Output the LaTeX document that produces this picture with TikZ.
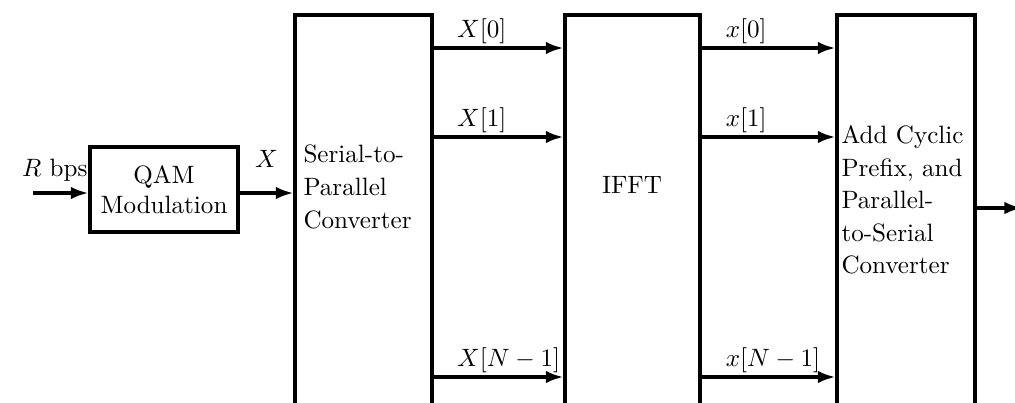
\documentclass[tikz,border=0pt]{standalone}
\usepackage{amsmath,amssymb}
\usetikzlibrary{arrows.meta,positioning,calc}

\begin{document}
\begin{tikzpicture}[x=0.014cm, y=-0.014cm, >={Latex[length=7pt,width=5pt]},
  block/.style={draw, line width=1.3pt, rectangle, inner sep=0pt},
  txt/.style={align=left, font=\fontsize{10}{13}\selectfont, inner sep=0pt},
  lbl/.style={inner sep=1pt, anchor=south west}]
  \useasboundingbox (0,0) rectangle (1015,402);
  \clip (0,0) rectangle (1015,402);
  % blocks
  \node[block, minimum width=2.072cm, minimum height=1.19cm, align=center] (qam) at (164,189.5) {QAM\\Modulation};
  \node[block, minimum width=1.918cm, minimum height=5.95cm] (sp) at (363.5,227.5) {};
  \node[block, minimum width=1.89cm, minimum height=5.95cm] (ifft) at (632.5,227.5) {};
  \node[block, minimum width=1.932cm, minimum height=5.95cm] (ps) at (906,227.5) {};
  \node[txt, anchor=west] (sptxt) at (303,187) {Serial-to-\\Parallel\\Converter};
  \node[txt] (iffttxt) at (632,185) {IFFT};
  \node[txt, anchor=west] (pstxt) at (841,200) {Add Cyclic\\Prefix, and\\Parallel-\\to-Serial\\Converter};
  \coordinate (in) at (33,193);
  \coordinate (out) at (1022,208);
  % connectors
  \draw[->, line width=1.3pt] (in) -- (qam.west |- in) node[lbl, pos=0, xshift=-6pt, yshift=3pt] {$R$ bps};
  \draw[->, line width=1.3pt] (qam.east |- in) -- (sp.west |- in) node[midway, above=6pt] {$X$};
  \draw[->, line width=1.3pt] (sp.east |- 0,48) -- (ifft.west |- 0,48) node[lbl, pos=0.15] {$X[0]$};
  \draw[->, line width=1.3pt] (sp.east |- 0,137) -- (ifft.west |- 0,137) node[lbl, pos=0.15] {$X[1]$};
  \draw[->, line width=1.3pt] (sp.east |- 0,377) -- (ifft.west |- 0,377) node[lbl, pos=0.15] {$X[N-1]$};
  \draw[->, line width=1.3pt] (ifft.east |- 0,48) -- (ps.west |- 0,48) node[lbl, pos=0.15] {$x[0]$};
  \draw[->, line width=1.3pt] (ifft.east |- 0,137) -- (ps.west |- 0,137) node[lbl, pos=0.15] {$x[1]$};
  \draw[->, line width=1.3pt] (ifft.east |- 0,377) -- (ps.west |- 0,377) node[lbl, pos=0.15] {$x[N-1]$};
  \draw[->, line width=1.3pt] (ps.east |- out) -- (out);
\end{tikzpicture}
\end{document}
